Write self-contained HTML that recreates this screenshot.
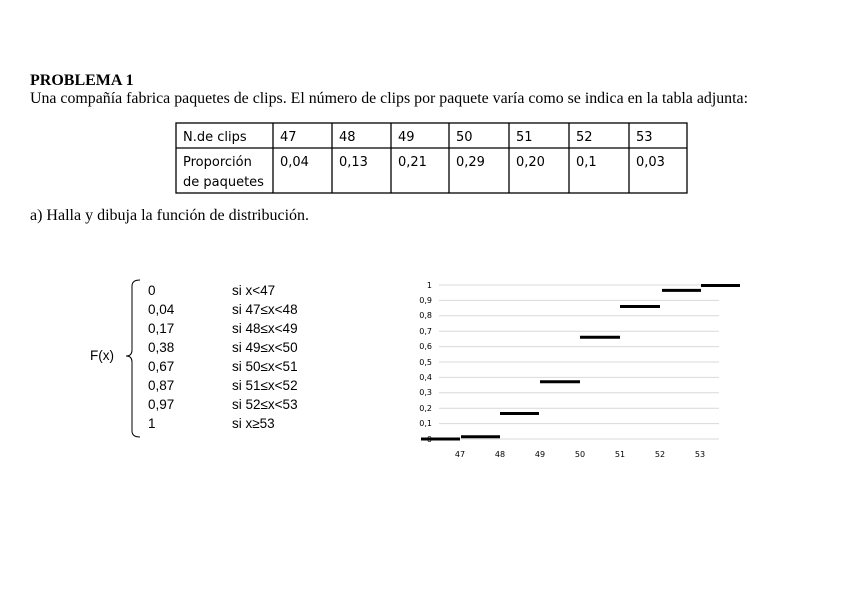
<!DOCTYPE html>
<html><head><meta charset="utf-8"><style>
html,body{margin:0;padding:0;background:#fff;width:848px;height:599px;overflow:hidden}
svg{display:block}
.s{font-family:"Liberation Serif",serif;fill:#000}
.c{font-family:"DejaVu Sans","Liberation Sans",sans-serif;fill:#000}
.l{font-family:"Liberation Sans",sans-serif;fill:#000}
</style></head><body>
<svg width="848" height="599" viewBox="0 0 848 599" xmlns="http://www.w3.org/2000/svg">
<text class="s" x="30" y="85" font-size="16" font-weight="bold">PROBLEMA 1</text>
<text class="s" x="30" y="103" font-size="16" textLength="718" lengthAdjust="spacingAndGlyphs">Una compañía fabrica paquetes de clips. El número de clips por paquete varía como se indica en la tabla adjunta:</text>
<g stroke="#000" stroke-width="1.3" fill="none">
<rect x="176" y="123" width="511" height="70"/>
<line x1="176" y1="148" x2="687" y2="148"/>
<line x1="273" y1="123" x2="273" y2="193"/>
<line x1="332" y1="123" x2="332" y2="193"/>
<line x1="391" y1="123" x2="391" y2="193"/>
<line x1="449" y1="123" x2="449" y2="193"/>
<line x1="509" y1="123" x2="509" y2="193"/>
<line x1="569" y1="123" x2="569" y2="193"/>
<line x1="629" y1="123" x2="629" y2="193"/>
</g>
<g class="c" font-size="13">
<text x="183" y="141">N.de clips</text>
<text x="183" y="166">Proporción</text>
<text x="183" y="186">de paquetes</text>
<text x="280" y="141">47</text><text x="339" y="141">48</text><text x="398" y="141">49</text><text x="456" y="141">50</text><text x="516" y="141">51</text><text x="576" y="141">52</text><text x="636" y="141">53</text>
<text x="280" y="166">0,04</text><text x="339" y="166">0,13</text><text x="398" y="166">0,21</text><text x="456" y="166">0,29</text><text x="516" y="166">0,20</text><text x="576" y="166">0,1</text><text x="636" y="166">0,03</text>
</g>
<text class="s" x="30" y="220" font-size="16">a) Halla y dibuja la función de distribución.</text>

<g class="l" font-size="13.5">
<text x="90" y="360">F(x)</text>
<text x="148" y="295">0</text><text x="232" y="295">si x&lt;47</text>
<text x="148" y="314">0,04</text><text x="232" y="314">si 47≤x&lt;48</text>
<text x="148" y="333">0,17</text><text x="232" y="333">si 48≤x&lt;49</text>
<text x="148" y="352">0,38</text><text x="232" y="352">si 49≤x&lt;50</text>
<text x="148" y="371">0,67</text><text x="232" y="371">si 50≤x&lt;51</text>
<text x="148" y="390">0,87</text><text x="232" y="390">si 51≤x&lt;52</text>
<text x="148" y="409">0,97</text><text x="232" y="409">si 52≤x&lt;53</text>
<text x="148" y="428">1</text><text x="232" y="428">si x≥53</text>
</g>
<path d="M140 280 Q132 280 132 286 L132 350 Q132 356 126 356 Q132 356 132 362 L132 431 Q132 437 140 437" stroke="#000" stroke-width="1" fill="none"/>

<g stroke="#d9d9d9" stroke-width="1">
<line x1="439" y1="285" x2="719" y2="285"/>
<line x1="439" y1="300.4" x2="719" y2="300.4"/>
<line x1="439" y1="315.8" x2="719" y2="315.8"/>
<line x1="439" y1="331.2" x2="719" y2="331.2"/>
<line x1="439" y1="346.6" x2="719" y2="346.6"/>
<line x1="439" y1="362" x2="719" y2="362"/>
<line x1="439" y1="377.4" x2="719" y2="377.4"/>
<line x1="439" y1="392.8" x2="719" y2="392.8"/>
<line x1="439" y1="408.2" x2="719" y2="408.2"/>
<line x1="439" y1="423.6" x2="719" y2="423.6"/>
<line x1="439" y1="439" x2="719" y2="439"/>
</g>
<g class="c" font-size="8" text-anchor="end">
<text x="432" y="288">1</text>
<text x="432" y="303">0,9</text>
<text x="432" y="318">0,8</text>
<text x="432" y="334">0,7</text>
<text x="432" y="349">0,6</text>
<text x="432" y="365">0,5</text>
<text x="432" y="380">0,4</text>
<text x="432" y="395">0,3</text>
<text x="432" y="411">0,2</text>
<text x="432" y="426">0,1</text>
<text x="432" y="442">0</text>
</g>
<g class="c" font-size="8" text-anchor="middle">
<text x="460" y="457">47</text><text x="500" y="457">48</text><text x="540" y="457">49</text><text x="580" y="457">50</text><text x="620" y="457">51</text><text x="660" y="457">52</text><text x="700" y="457">53</text>
</g>
<g stroke="#000" stroke-width="3">
<line x1="421" y1="439" x2="460" y2="439"/>
<line x1="461" y1="436.7" x2="500" y2="436.7"/>
<line x1="500" y1="413.5" x2="539" y2="413.5"/>
<line x1="540" y1="381.8" x2="580" y2="381.8"/>
<line x1="580" y1="337.3" x2="620" y2="337.3"/>
<line x1="620" y1="306.5" x2="660" y2="306.5"/>
<line x1="662" y1="290.4" x2="701" y2="290.4"/>
<line x1="701" y1="285.5" x2="740" y2="285.5"/>
</g>
</svg>
</body></html>
